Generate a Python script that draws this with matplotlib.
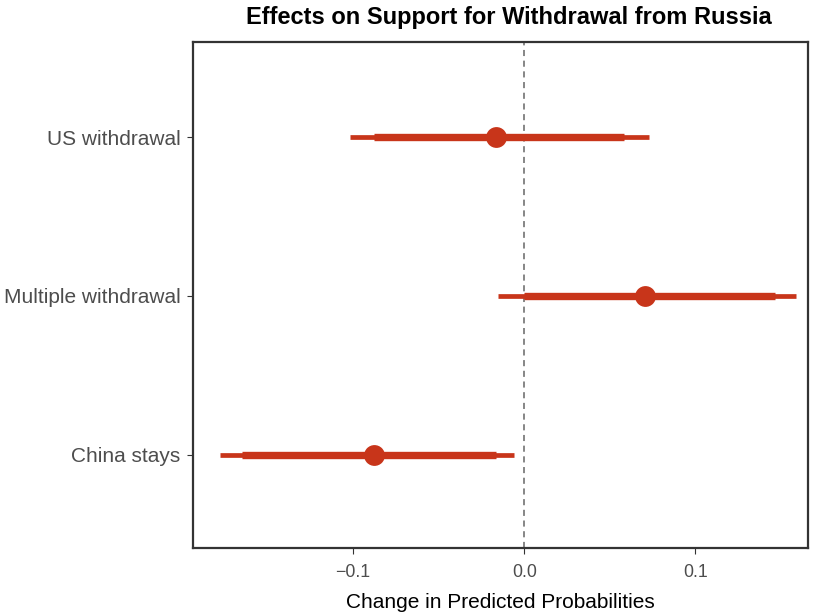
import matplotlib
matplotlib.use("Agg")
import matplotlib.pyplot as plt

plt.rcParams['font.family'] = ['Liberation Sans', 'DejaVu Sans']

# Treatment effects with 90% (thick) and 95% (thin) intervals
categories = ["US withdrawal", "Multiple withdrawal", "China stays"]
estimate = [-0.0167, 0.0705, -0.0880]
ci90_low = [-0.0877, 0.0000, -0.1649]
ci90_high = [0.0582, 0.1465, -0.0166]
ci95_low = [-0.1017, -0.0155, -0.1775]
ci95_high = [0.0728, 0.1588, -0.0061]
xticks = [-0.1, 0.0, 0.1]
xtick_labels = ["\u22120.1", "0.0", "0.1"]

color = "#C8351A"

fig = plt.figure(figsize=(8.24, 6.16), dpi=100)
ax = fig.add_axes([0.234, 0.110, 0.747, 0.822])

ypos = [3, 2, 1]
ax.axvline(0, color="#666666", linestyle=(0, (4, 3)), linewidth=1.1, zorder=1)
for y, lo95, hi95, lo90, hi90, est in zip(ypos, ci95_low, ci95_high, ci90_low, ci90_high, estimate):
    ax.plot([lo95, hi95], [y, y], color=color, linewidth=3.4, solid_capstyle="butt", zorder=2)
    ax.plot([lo90, hi90], [y, y], color=color, linewidth=5.3, solid_capstyle="butt", zorder=3)
    ax.plot([est], [y], marker="o", markersize=15, color=color, markeredgewidth=0, zorder=4)

ax.set_xlim(-0.1936, 0.166)
ax.set_ylim(0.41, 3.6)
ax.set_yticks(ypos)
ax.set_yticklabels(categories, fontsize=15, color="#4d4d4d")
ax.set_xticks(xticks)
ax.set_xticklabels(xtick_labels, fontsize=12.8, color="#4d4d4d")
ax.tick_params(axis="both", direction="out", length=4, width=0.8, color="#333333")
ax.tick_params(axis="y", pad=5)
ax.tick_params(axis="x", pad=7)
for s in ax.spines.values():
    s.set_color("#333333")
    s.set_linewidth(1.6)

ax.set_xlabel("Change in Predicted Probabilities", fontsize=15, color="black", labelpad=9)
ax.set_title("Effects on Support for Withdrawal from Russia", fontsize=17,
             fontweight="bold", pad=13, x=0.513)

fig.savefig("out.png", dpi=100)
